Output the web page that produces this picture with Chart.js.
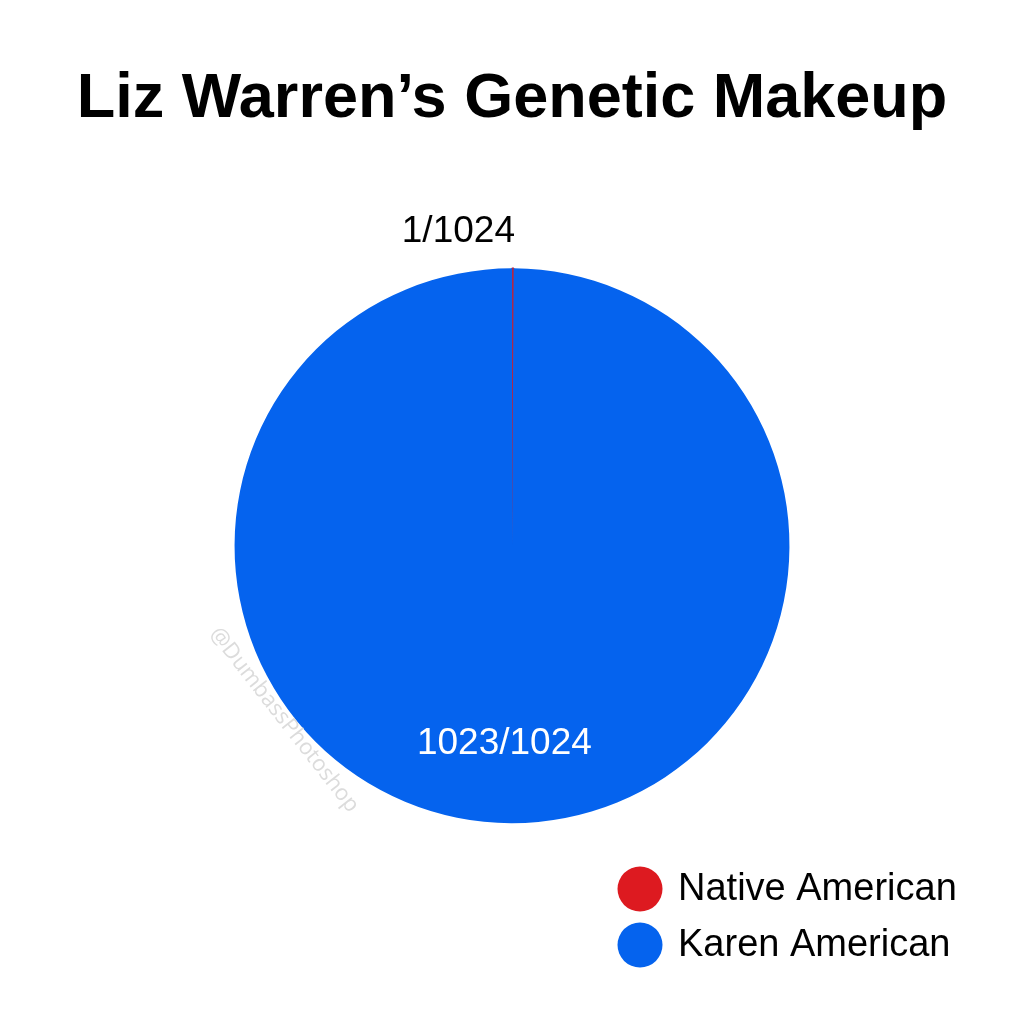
<!DOCTYPE html>
<html>
<head>
<meta charset="utf-8">
<script src="https://cdn.jsdelivr.net/npm/chart.js@4.4.0/dist/chart.umd.min.js"></script>
<style>
  html, body { margin: 0; padding: 0; background: #fff; }
  #wrap { width: 1024px; height: 1024px; }
</style>
</head>
<body>
<div id="wrap"><canvas id="geneChart" width="1024" height="1024"></canvas></div>
<script>
const labels = ['Native American', 'Karen American'];
const values = [1, 1023];
const valueLabels = ['1/1024', '1023/1024'];
const colors = ['#DD1A20', '#0563EE'];

// slice labels: red one above the pie, blue one inside near the bottom
const sliceLabels = {
    id: 'sliceLabels',
    afterDatasetsDraw(chart) {
        const ctx = chart.ctx;
        const arcs = chart.getDatasetMeta(0).data;
        ctx.save();
        ctx.font = '37px "Liberation Sans", Arial, sans-serif';
        ctx.textBaseline = 'middle';
        arcs.forEach(function (arc, i) {
            const p = arc.getProps(['x', 'y', 'startAngle', 'endAngle', 'outerRadius']);
            const mid = (p.startAngle + p.endAngle) / 2;
            if (i === 0) {
                const r = p.outerRadius + 37;
                ctx.fillStyle = '#000';
                ctx.textAlign = 'right';
                ctx.fillText(valueLabels[i], p.x + Math.cos(mid) * r + 2, p.y + Math.sin(mid) * r);
            } else {
                const r = p.outerRadius * 0.71;
                ctx.fillStyle = '#fff';
                ctx.textAlign = 'center';
                ctx.fillText(valueLabels[i], p.x + Math.cos(mid) * r - 7, p.y + Math.sin(mid) * r + 1);
            }
        });
        // watermark
        ctx.translate(284, 720);
        ctx.rotate(52 * Math.PI / 180);
        ctx.font = '22px "Open Sans", "Liberation Sans", sans-serif';
        ctx.fillStyle = '#dcdcdc';
        ctx.textAlign = 'center';
        ctx.fillText('@DumbassPhotoshop', 0, 0);
        ctx.restore();
    }
};

// legend at bottom right, one item per line
const sideLegend = {
    id: 'sideLegend',
    afterDraw(chart) {
        const ctx = chart.ctx;
        const ds = chart.data.datasets[0];
        ctx.save();
        ctx.font = '38px "Liberation Sans", Arial, sans-serif';
        ctx.textBaseline = 'middle';
        ctx.textAlign = 'left';
        chart.data.labels.forEach(function (lab, i) {
            const y = 889 + i * 56;
            ctx.beginPath();
            ctx.arc(640, y, 22.5, 0, Math.PI * 2);
            ctx.fillStyle = ds.backgroundColor[i];
            ctx.fill();
            ctx.fillStyle = '#000';
            ctx.fillText(lab, 678, y + 1);
        });
        ctx.restore();
    }
};

new Chart(document.getElementById('geneChart').getContext('2d'), {
    type: 'pie',
    data: {
        labels: labels,
        datasets: [{
            data: values,
            backgroundColor: colors,
            borderColor: ['#B02848', '#0563EE'],
            borderWidth: [1.5, 0]
        }]
    },
    options: {
        responsive: false,
        animation: false,
        layout: { padding: { top: 0, bottom: 200 } },
        plugins: {
            legend: { display: false },
            tooltip: { enabled: false },
            title: {
                display: true,
                text: 'Liz Warren’s Genetic Makeup',
                color: '#000',
                font: { family: '"Liberation Sans", Arial, sans-serif', size: 63, weight: 'bold', lineHeight: 1.2 },
                padding: { top: 62, bottom: 130 }
            }
        }
    },
    plugins: [sliceLabels, sideLegend]
});
</script>
</body>
</html>
